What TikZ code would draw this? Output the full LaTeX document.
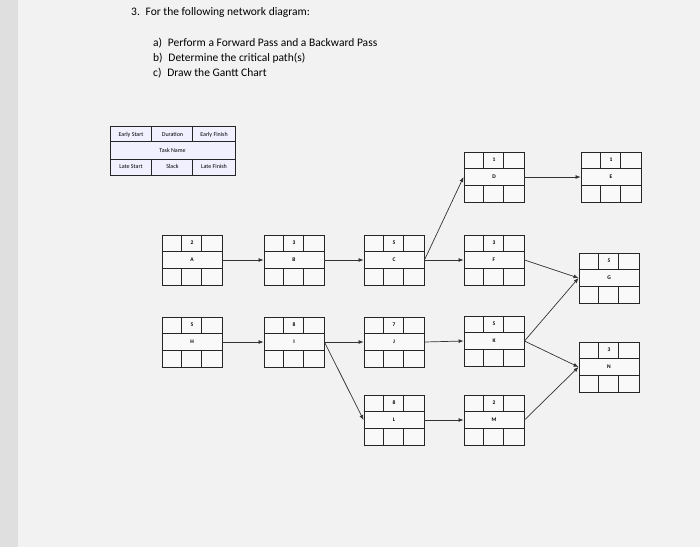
\documentclass[tikz,border=0pt]{standalone}
\usepackage{fontspec}
\setmainfont{Carlito}
\usetikzlibrary{arrows.meta}
\tikzset{
  tbox/.style={draw=black!85, line width=0.9pt, fill=white!95!gray, minimum width=60pt, minimum height=50pt, inner sep=0pt},
  conn/.style={draw=black!80, line width=0.7pt, -{Latex[length=5pt,width=4pt]}},
  cell/.style={font=\fontsize{5.5}{6}\selectfont\bfseries, inner sep=0pt},
  leg/.style={font=\fontsize{6}{7}\selectfont, inner sep=0pt},
  ttl/.style={font=\fontsize{11.5}{13}\selectfont, anchor=west, inner sep=0pt}
}
\newcommand{\taskbox}[5]{%
  \node[tbox] (#1) at (#2pt,-#3pt) {};
  \draw[line width=0.9pt, black!85] ([yshift=-16.7pt]#1.north west) -- ([yshift=-16.7pt]#1.north east)
    ([yshift=16.7pt]#1.south west) -- ([yshift=16.7pt]#1.south east)
    ([xshift=20pt]#1.north west) -- ([xshift=20pt,yshift=-16.7pt]#1.north west)
    ([xshift=40pt]#1.north west) -- ([xshift=40pt,yshift=-16.7pt]#1.north west)
    ([xshift=20pt]#1.south west) -- ([xshift=20pt,yshift=16.7pt]#1.south west)
    ([xshift=40pt]#1.south west) -- ([xshift=40pt,yshift=16.7pt]#1.south west);
  \node[cell] (#1d) at ([yshift=-8.3pt]#1.north) {#4};
  \node[cell] (#1n) at (#1.center) {#5};
}
\begin{document}
\begin{tikzpicture}
\useasboundingbox (0,0) rectangle (700pt,-547pt);
\fill[gray!25] (0,0) rectangle (700pt,-547pt);
\fill[gray!10] (18pt,0) rectangle (700pt,-547pt);
\node[ttl] (t0) at (131pt,-12pt) {3.\enspace For the following network diagram:};
\node[ttl] (t1) at (153pt,-43pt) {a)\enspace Perform a Forward Pass and a Backward Pass};
\node[ttl] (t2) at (153pt,-58pt) {b)\enspace Determine the critical path(s)};
\node[ttl] (t3) at (153pt,-73pt) {c)\enspace Draw the Gantt Chart};
% legend
\node[draw=black!85, line width=0.9pt, fill=blue!6, minimum width=125pt, minimum height=49pt, inner sep=0pt] (lg) at (172.5pt,-150.5pt) {};
\draw[line width=0.9pt, black!85] ([yshift=-16.3pt]lg.north west) -- ([yshift=-16.3pt]lg.north east)
  ([yshift=16.3pt]lg.south west) -- ([yshift=16.3pt]lg.south east)
  ([xshift=42pt]lg.north west) -- ([xshift=42pt,yshift=-16.3pt]lg.north west)
  ([xshift=83pt]lg.north west) -- ([xshift=83pt,yshift=-16.3pt]lg.north west)
  ([xshift=42pt]lg.south west) -- ([xshift=42pt,yshift=16.3pt]lg.south west)
  ([xshift=83pt]lg.south west) -- ([xshift=83pt,yshift=16.3pt]lg.south west);
\node[leg] (l1) at (131pt,-134.5pt) {Early Start};
\node[leg] (l2) at (172.5pt,-134.5pt) {Duration};
\node[leg] (l3) at (214pt,-134.5pt) {Early Finish};
\node[leg] (l4) at (172.5pt,-150.5pt) {Task Name};
\node[leg] (l5) at (131pt,-166.5pt) {Late Start};
\node[leg] (l6) at (172.5pt,-166.5pt) {Slack};
\node[leg] (l7) at (214pt,-166.5pt) {Late Finish};
% tasks
\taskbox{A}{192}{260}{2}{A}
\taskbox{B}{294}{260}{3}{B}
\taskbox{C}{394}{260}{5}{C}
\taskbox{D}{494}{177}{1}{D}
\taskbox{E}{611}{177}{1}{E}
\taskbox{F}{494}{260}{3}{F}
\taskbox{G}{609}{278}{5}{G}
\taskbox{H}{192}{342}{5}{H}
\taskbox{I}{294}{342}{8}{I}
\taskbox{J}{394}{342}{7}{J}
\taskbox{K}{494}{341}{5}{K}
\taskbox{N}{609}{367}{3}{N}
\taskbox{L}{394}{420}{8}{L}
\taskbox{M}{494}{420}{2}{M}
% connectors
\draw[conn] (A.east) -- (B.west);
\draw[conn] (B.east) -- (C.west);
\draw[conn] (C.east) -- (D.west);
\draw[conn] (C.east) -- (F.west);
\draw[conn] (D.east) -- (E.west);
\draw[conn] (F.east) -- (G.west);
\draw[conn] (K.east) -- (G.west);
\draw[conn] (K.east) -- (N.west);
\draw[conn] (M.east) -- (N.west);
\draw[conn] (H.east) -- (I.west);
\draw[conn] (I.east) -- (J.west);
\draw[conn] (I.east) -- (L.west);
\draw[conn] (J.east) -- (K.west);
\draw[conn] (L.east) -- (M.west);
\end{tikzpicture}
\end{document}
